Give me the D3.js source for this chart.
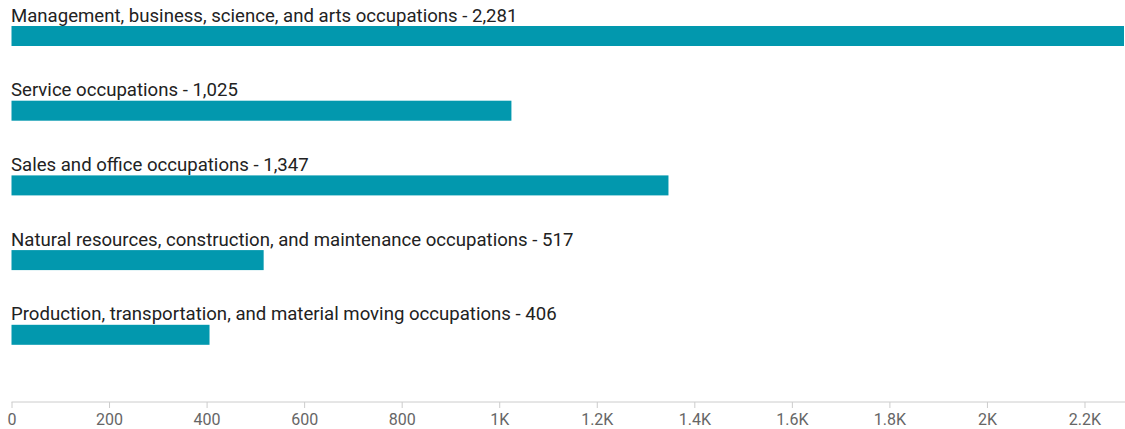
<!DOCTYPE html>
<html>
<head>
<meta charset="utf-8">
<script src="https://cdn.jsdelivr.net/npm/d3@7"></script>
<style>
    body { margin: 0; background: #fff; }
    svg { display: block; font-family: Roboto, sans-serif; }
</style>
</head>
<body>
<svg id="chart" width="1125" height="429"></svg>
<script>
var categories = [
    "Management, business, science, and arts occupations",
    "Service occupations",
    "Sales and office occupations",
    "Natural resources, construction, and maintenance occupations",
    "Production, transportation, and material moving occupations"
];
var values = [2281, 1025, 1347, 517, 406];
var tickValues = [0, 200, 400, 600, 800, 1000, 1200, 1400, 1600, 1800, 2000, 2200];

var svg = d3.select('#chart');
var padLeft = 11.5, padRight = 1124, firstBarY = 26, rowStep = 74.7, barH = 20, axisY = 402;

var x = d3.scaleLinear().domain([0, 2281]).range([padLeft, padRight]);
var y = d3.scaleBand().domain(categories)
    .range([firstBarY, firstBarY + rowStep * categories.length])
    .paddingInner(0).paddingOuter(0);

//Bars and labels
var rows = svg.selectAll('g.row').data(categories).enter().append('g')
    .attr('class', 'row')
    .attr('transform', function (d) { return 'translate(0,' + y(d) + ')'; });

rows.append('rect')
    .attr('x', x(0))
    .attr('y', 0)
    .attr('width', function (d, i) { return x(values[i]) - x(0); })
    .attr('height', barH)
    .attr('fill', '#0298ae');

rows.append('text')
    .attr('x', 11)
    .attr('y', -4.5)
    .attr('font-size', '18.6px')
    .attr('fill', '#222')
    .text(function (d, i) { return d + ' - ' + d3.format(',')(values[i]); });

//Axis
var fmt = function (v) {
    if (v >= 1000) return d3.format('~')(v / 1000) + 'K';
    return v;
};
var axis = svg.append('g')
    .attr('transform', 'translate(0,' + axisY + ')')
    .call(d3.axisBottom(x).tickValues(tickValues).tickFormat(fmt).tickSize(6).tickSizeOuter(0));
axis.select('.domain').attr('stroke', '#ccc').attr('d', 'M' + x(0) + ',0H1125');
axis.selectAll('.tick line').attr('stroke', '#ccc');
axis.selectAll('.tick text').attr('fill', '#666').attr('font-size', '16px')
    .attr('font-family', 'Roboto, sans-serif').attr('y', 23).attr('dy', 0);
</script>
</body>
</html>
